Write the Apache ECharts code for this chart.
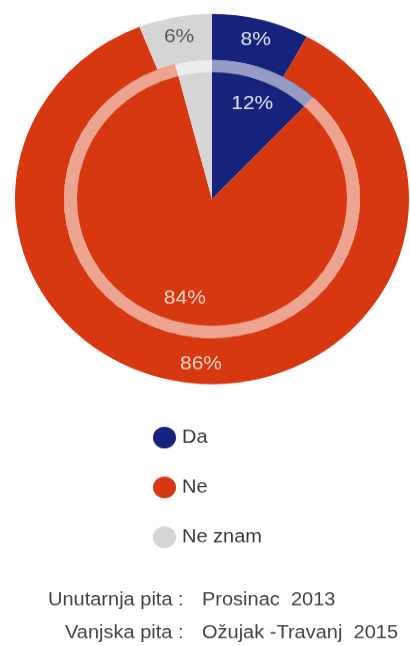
<!DOCTYPE html>
<html>
<head>
<meta charset="utf-8">
<script src="https://cdn.jsdelivr.net/npm/echarts@6/dist/echarts.min.js"></script>
<style>
  html, body { margin: 0; padding: 0; background: #ffffff; }
  #wrap { width: 410px; height: 646px; overflow: hidden; position: relative; }
  #chart { width: 410px; height: 687px; transform: scaleY(0.94); transform-origin: 0 0; }
</style>
</head>
<body>
<div id="wrap"><div id="chart"></div></div>
<script>
// Data
const categories = ['Da', 'Ne', 'Ne znam'];
const innerValues = [12, 84, 4];   // Unutarnja pita: Prosinac 2013
const outerValues = [8, 86, 6];    // Vanjska pita: Ožujak -Travanj 2015
const innerHiddenLabels = ['Ne znam'];
const captionLabels = ['Unutarnja pita :', 'Vanjska pita :'];
const captionValues = ['Prosinac  2013', 'Ožujak -Travanj  2015'];

// Styles
const colors = ['#16237c', '#d7380f', '#d5d5d5'];
const labelColors = ['#dfe2f3', '#fbd6c8', '#555555'];
const FONT = 'Liberation Sans, Arial, sans-serif';
const CX = 212, CY = 211.7;

const chart = echarts.init(document.getElementById('chart'));

function buildData(values, hidden) {
  return categories.map((name, i) => ({
    name: name,
    value: values[i],
    itemStyle: { color: colors[i] },
    label: { color: labelColors[i], show: !(hidden || []).includes(name) }
  }));
}

const option = {
  animation: false,
  legend: {
    data: categories,
    orient: 'vertical',
    left: 153,
    top: 454,
    padding: 0,
    icon: 'circle',
    itemWidth: 23,
    itemHeight: 23,
    itemGap: 30,
    selectedMode: false,
    textStyle: { fontSize: 20, color: '#3a3a3a', fontFamily: FONT, padding: [0, 0, 0, 1] }
  },
  graphic: [
    { type: 'text', x: 48, y: 638, style: { text: captionLabels[0], fill: '#444', fontSize: 20, fontFamily: FONT, align: 'left', verticalAlign: 'middle' } },
    { type: 'text', x: 202, y: 638, style: { text: captionValues[0], fill: '#444', fontSize: 20, fontFamily: FONT, align: 'left', verticalAlign: 'middle' } },
    { type: 'text', x: 65, y: 673, style: { text: captionLabels[1], fill: '#444', fontSize: 20, fontFamily: FONT, align: 'left', verticalAlign: 'middle' } },
    { type: 'text', x: 202, y: 673, style: { text: captionValues[1], fill: '#444', fontSize: 20, fontFamily: FONT, align: 'left', verticalAlign: 'middle' } }
  ],
  series: [
    {
      name: 'Vanjska pita',
      type: 'pie',
      center: [CX, CY],
      radius: [148, 197],
      startAngle: 90,
      clockwise: true,
      silent: true,
      label: { show: true, position: 'inside', formatter: '{c}%', fontSize: 21, fontFamily: FONT },
      labelLine: { show: false },
      emphasis: { disabled: true },
      data: buildData(outerValues)
    },
    {
      name: 'Unutarnja pita',
      type: 'pie',
      center: [CX, CY],
      radius: [0, 148],
      startAngle: 90,
      clockwise: true,
      silent: true,
      label: { show: true, position: 'inside', formatter: '{c}%', fontSize: 21, fontFamily: FONT },
      labelLine: { show: false },
      labelLayout: function (p) {
        const r = p.labelRect;
        const lx = r.x + r.width / 2, ly = r.y + r.height / 2;
        const k = 0.42;
        return { dx: (lx - CX) * k, dy: (ly - CY) * k };
      },
      emphasis: { disabled: true },
      data: buildData(innerValues, innerHiddenLabels)
    },
    {
      name: 'ring',
      type: 'pie',
      center: [CX, CY],
      radius: [135, 148],
      silent: true,
      label: { show: false },
      labelLine: { show: false },
      emphasis: { disabled: true },
      itemStyle: { color: 'rgba(255,255,255,0.55)' },
      data: [{ name: '', value: 1 }]
    }
  ]
};
chart.setOption(option);
</script>
</body>
</html>
